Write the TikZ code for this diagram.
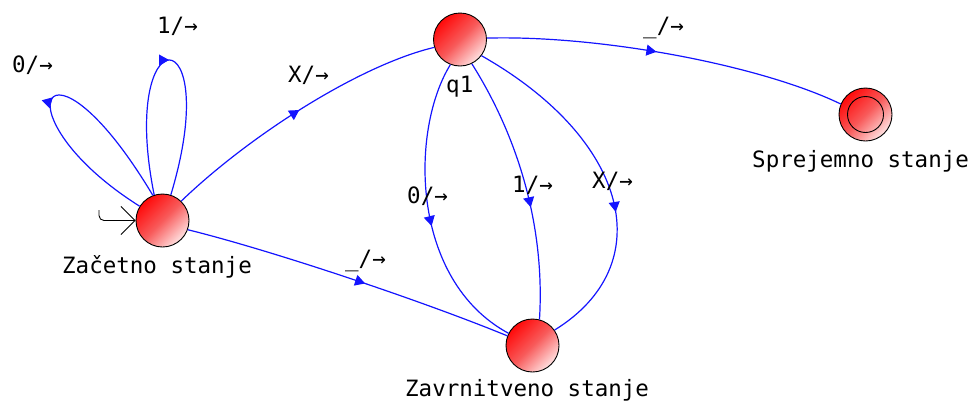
\documentclass[tikz,border=0pt]{standalone}
\usepackage{fontspec}
\newfontfamily\lblfont{DejaVu Sans Mono}
\usetikzlibrary{arrows.meta,decorations.markings}
\definecolor{stred}{RGB}{255,10,10}
\definecolor{stmid}{RGB}{248,90,90}
\definecolor{stlight}{RGB}{255,225,225}
\definecolor{edgeblue}{RGB}{20,20,255}
\begin{document}
\begin{tikzpicture}[x=1pt,y=-1pt,
  state/.style={circle,draw=black,line width=0.9pt,minimum size=53pt,inner sep=0pt,top color=stred,bottom color=stlight,middle color=stmid,shading angle=45},
  edge/.style={draw=edgeblue,line width=1.2pt},
  midarrow/.style={postaction={decorate,decoration={markings,mark=at position #1 with {\arrow[edgeblue]{Triangle[length=10pt,width=11pt]}}}}},
  lbl/.style={font=\lblfont\fontsize{22.5}{27}\selectfont,inner sep=0pt,anchor=base west}
]
\useasboundingbox (0,0) rectangle (977,400);

% states
\node[state] (z) at (162.5,220.5) {};
\node[state] (q) at (460,39.5) {};
\node[state] (r) at (532.5,345.5) {};
\node[state] (s) at (865.5,114.5) {};
\draw[line width=0.9pt] (s.center) circle[radius=18pt];

% state labels
\node[lbl] (zl) at (62,273) {Začetno stanje};
\node[lbl] (ql) at (446,92) {q1};
\node[lbl] (rl) at (405,396) {Zavrnitveno stanje};
\node[lbl] (sl) at (752,167) {Sprejemno stanje};

% initial arrow
\coordinate (init) at (99,210);
\draw[line width=0.9pt,rounded corners=5pt,-{Straight Barb[length=14pt,width=28pt]}] (init) |- (z.west);

% edges
\draw[edge,midarrow=0.5] (z.148) .. controls (-5,115) and (45,15) .. (z.111);
\draw[edge,midarrow=0.5] (z.108) .. controls (118,15) and (225,15) .. (z.72);
\draw[edge,midarrow=0.5] (z.46) .. controls (250,135) and (360,65) .. (q.197);
\draw[edge,midarrow=0.55] (z.-20) .. controls (270,250) and (420,300) .. (r.159);
\draw[edge,midarrow=0.47] (q.3) .. controls (600,35) and (760,65) .. (s.157);
\draw[edge,midarrow=0.55] (q.249) .. controls (410,130) and (410,280) .. (r.153);
\draw[edge,midarrow=0.58] (q.-64) .. controls (520,140) and (545,230) .. (r.75);
\draw[edge,midarrow=0.6] (q.-37) .. controls (630,140) and (660,265) .. (r.35);

% edge labels
\node[lbl] (l0) at (12,72) {0/→};
\node[lbl] (l1) at (157,33) {1/→};
\node[lbl] (lx) at (288,82) {X/→};
\node[lbl] (lzr) at (345,266) {\_/→};
\node[lbl] (lqs) at (643,33) {\_/→};
\node[lbl] (lq0) at (407,203) {0/→};
\node[lbl] (lq1) at (512,192) {1/→};
\node[lbl] (lqx) at (592,188) {X/→};
\end{tikzpicture}
\end{document}
